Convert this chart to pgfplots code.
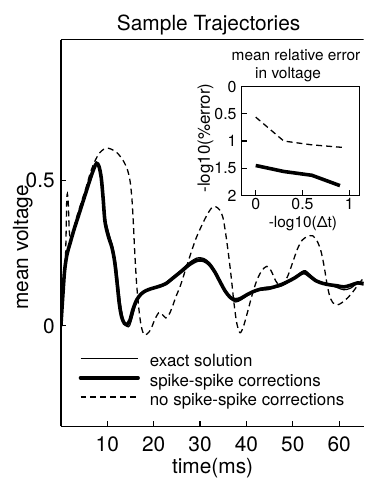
\documentclass[border=0pt]{standalone}
\usepackage{fontspec}
\setmainfont{TeX Gyre Heros}
\usepackage{pgfplots}
\pgfplotsset{compat=1.18}
\newcommand{\mainfont}{\fontsize{21}{25}\selectfont}
\newcommand{\legfont}{\fontsize{17}{20}\selectfont}
\newcommand{\insfont}{\fontsize{15.5}{18}\selectfont}
\newcommand{\instick}{\fontsize{16}{19}\selectfont}
\begin{document}
\begin{tikzpicture}
\path (0pt,0pt) rectangle (366pt,481pt);
\begin{axis}[
  at={(61.3pt,52pt)}, anchor=south west, scale only axis,
  width=304.7pt, height=389pt,
  xmin=0, xmax=65.25, ymin=-0.346, ymax=0.986,
  axis x line=bottom, axis y line=left,
  xtick={10,20,30,40,50,60}, ytick={0,0.5},
  tick align=inside, major tick length=5pt,
  axis line style={line width=1.3pt, -},
  every tick/.style={line width=1.2pt, black},
  font=\mainfont,
  /pgf/number format/assume math mode=true,
  xticklabel style={inner sep=0pt, yshift=-10pt},
  yticklabel style={inner sep=0pt, xshift=-6pt},
  legend style={draw=none, fill=none, at={(axis cs:3.8,-0.1)}, anchor=north west,
    font=\legfont, inner sep=0pt, row sep=3.8pt,
    nodes={inner sep=0pt, text height=12pt, text depth=3.5pt},
    /tikz/every odd column/.append style={column sep=10pt}},
  legend image code/.code={\draw[#1] (0pt,4pt) -- (58pt,4pt);},
  legend cell align=left,
]
\addplot[black, line width=1.2pt, smooth] coordinates {
(0,0) (0.4,0.10) (0.8,0.185) (1.3,0.24) (1.9,0.28) (2.8,0.33) (3.6,0.372) (4.5,0.42)
(5.4,0.466) (6.4,0.515) (7.2,0.55) (7.7,0.56) (8.2,0.548) (8.8,0.5) (9.2,0.43) (9.7,0.36)
(10.4,0.315) (11.2,0.27) (11.9,0.21) (12.4,0.14) (12.9,0.07) (13.5,0.02) (14.2,-0.002)
(14.8,0.0) (15.4,0.03) (16.1,0.07) (17.0,0.1) (18.0,0.118) (19.3,0.128) (20.8,0.136)
(22.4,0.146) (24.1,0.168) (25.9,0.192) (27.7,0.218) (29.4,0.234) (30.8,0.232) (32,0.218)
(33.2,0.19) (34.3,0.155) (35.4,0.12) (36.5,0.094) (37.7,0.082) (38.9,0.09) (40.2,0.104)
(41.7,0.118) (43.2,0.13) (44.7,0.134) (46.2,0.132) (47.7,0.138) (49.2,0.152) (50.7,0.17)
(51.9,0.186) (52.7,0.19) (53.6,0.178) (55.1,0.157) (56.6,0.147) (58,0.14) (59.5,0.132)
(61,0.124) (62.5,0.13) (64,0.148) (65.25,0.15)
};
\addlegendentry{exact solution}
\addplot[black, line width=3.6pt, smooth, line cap=round] coordinates {
(0,0) (0.4,0.10) (0.8,0.19) (1.3,0.245) (1.9,0.28) (2.8,0.33) (3.6,0.37) (4.5,0.415)
(5.4,0.46) (6.4,0.51) (7.2,0.545) (7.7,0.56) (8.2,0.55) (8.7,0.51) (9.1,0.44) (9.5,0.36)
(10.2,0.31) (11.0,0.27) (11.6,0.22) (12.1,0.15) (12.6,0.075) (13.1,0.03) (13.7,0.008)
(14.3,0.005) (14.9,0.02) (15.5,0.055) (16.3,0.088) (17.2,0.108) (18.2,0.12) (19.5,0.128)
(21,0.135) (22.6,0.145) (24.2,0.165) (26,0.188) (27.8,0.212) (29.5,0.226) (30.8,0.225)
(32,0.212) (33.2,0.185) (34.3,0.152) (35.4,0.12) (36.5,0.098) (37.6,0.09) (38.7,0.094)
(40,0.106) (41.5,0.118) (43,0.126) (44.5,0.128) (46,0.134) (47.5,0.142) (49,0.153)
(50.5,0.166) (51.8,0.18) (52.6,0.183) (53.5,0.173) (55,0.155) (56.5,0.146) (58,0.141)
(59.5,0.138) (61,0.134) (62.5,0.14) (64,0.148) (65.25,0.144)
};
\addlegendentry{spike-spike corrections}
\addplot[black, line width=1.3pt, smooth, dash pattern=on 6pt off 4pt] coordinates {
(0,0) (0.5,0.12) (0.9,0.2) (1.1,0.3) (1.25,0.43) (1.4,0.455) (1.6,0.42) (1.8,0.33)
(2.1,0.3) (2.8,0.34) (3.6,0.385) (4.5,0.43) (5.4,0.475) (6.4,0.53) (7.4,0.57) (8.3,0.595)
(9.2,0.608) (10.2,0.612) (11.2,0.606) (12.2,0.595) (13.4,0.57) (14.3,0.54) (14.9,0.5)
(15.3,0.44) (15.6,0.36) (15.9,0.26) (16.3,0.15) (16.8,0.06) (17.3,0.0) (17.9,-0.03)
(18.6,-0.028) (19.4,-0.012) (20.2,0.02) (21.1,0.045) (21.8,0.04) (22.6,0.027) (23.2,0.035)
(23.9,0.06) (24.8,0.1) (25.8,0.14) (26.8,0.19) (27.9,0.244) (29.1,0.3) (30.4,0.347)
(31.6,0.385) (32.6,0.408) (33.4,0.41) (34.2,0.4) (34.9,0.375) (35.5,0.32) (36.1,0.25)
(36.7,0.17) (37.3,0.08) (37.9,0.01) (38.6,-0.024) (39.3,-0.005) (40.2,0.045) (41.2,0.105)
(42.2,0.155) (43.3,0.19) (44.4,0.205) (45.3,0.19) (46.3,0.155) (47.2,0.138) (48,0.145)
(49,0.175) (50,0.22) (51,0.265) (52,0.295) (53.2,0.308) (54.3,0.31) (55.3,0.29)
(56.1,0.255) (56.8,0.2) (57.3,0.15) (57.9,0.105) (58.6,0.08) (59.6,0.072) (60.6,0.08)
(61.8,0.096) (63,0.118) (64,0.14) (65.25,0.165)
};
\addlegendentry{no spike-spike corrections}
\draw[line width=1.3pt] (rel axis cs:0,1) -- (rel axis cs:1,1);
\end{axis}
\begin{axis}[
  at={(243.3pt,284.3pt)}, anchor=south west, scale only axis,
  width=118.7pt, height=109.4pt,
  xmin=-0.15, xmax=1.11, ymin=0, ymax=2, y dir=reverse,
  xtick={0,0.5,1}, ytick={0,0.5,1,1.5,2},
  tick pos=left, tick align=inside, major tick length=5pt,
  axis line style={line width=1.3pt},
  every tick/.style={line width=1.2pt, black},
  font=\instick,
  /pgf/number format/assume math mode=true,
  xticklabel style={inner sep=0pt, yshift=-3pt},
  yticklabel style={inner sep=0pt, xshift=-5pt},
]
\addplot[black, line width=1.3pt, dash pattern=on 6pt off 4pt] coordinates {
(0,0.56) (0.3,1.0) (0.6,1.07) (0.95,1.12)};
\addplot[black, line width=3.6pt] coordinates {
(0,1.45) (0.3,1.56) (0.6,1.63) (0.9,1.82)};
\end{axis}
\node[font=\mainfont] at (210pt,456.3pt) {Sample Trajectories};
\node[font=\mainfont, rotate=90] at (23pt,232pt) {mean voltage};
\node[font=\mainfont] at (214pt,10pt) {time(ms)};
\node[font=\insfont, anchor=base] at (298pt,420pt) {mean relative error};
\node[font=\insfont, anchor=base] at (290pt,402pt) {in voltage};
\node[font=\insfont] at (305pt,256.3pt) {-log10(Δt)};
\node[font=\fontsize{17}{20}\selectfont, rotate=90] at (207pt,342pt) {-log10(\%error)};
\end{tikzpicture}
\end{document}
